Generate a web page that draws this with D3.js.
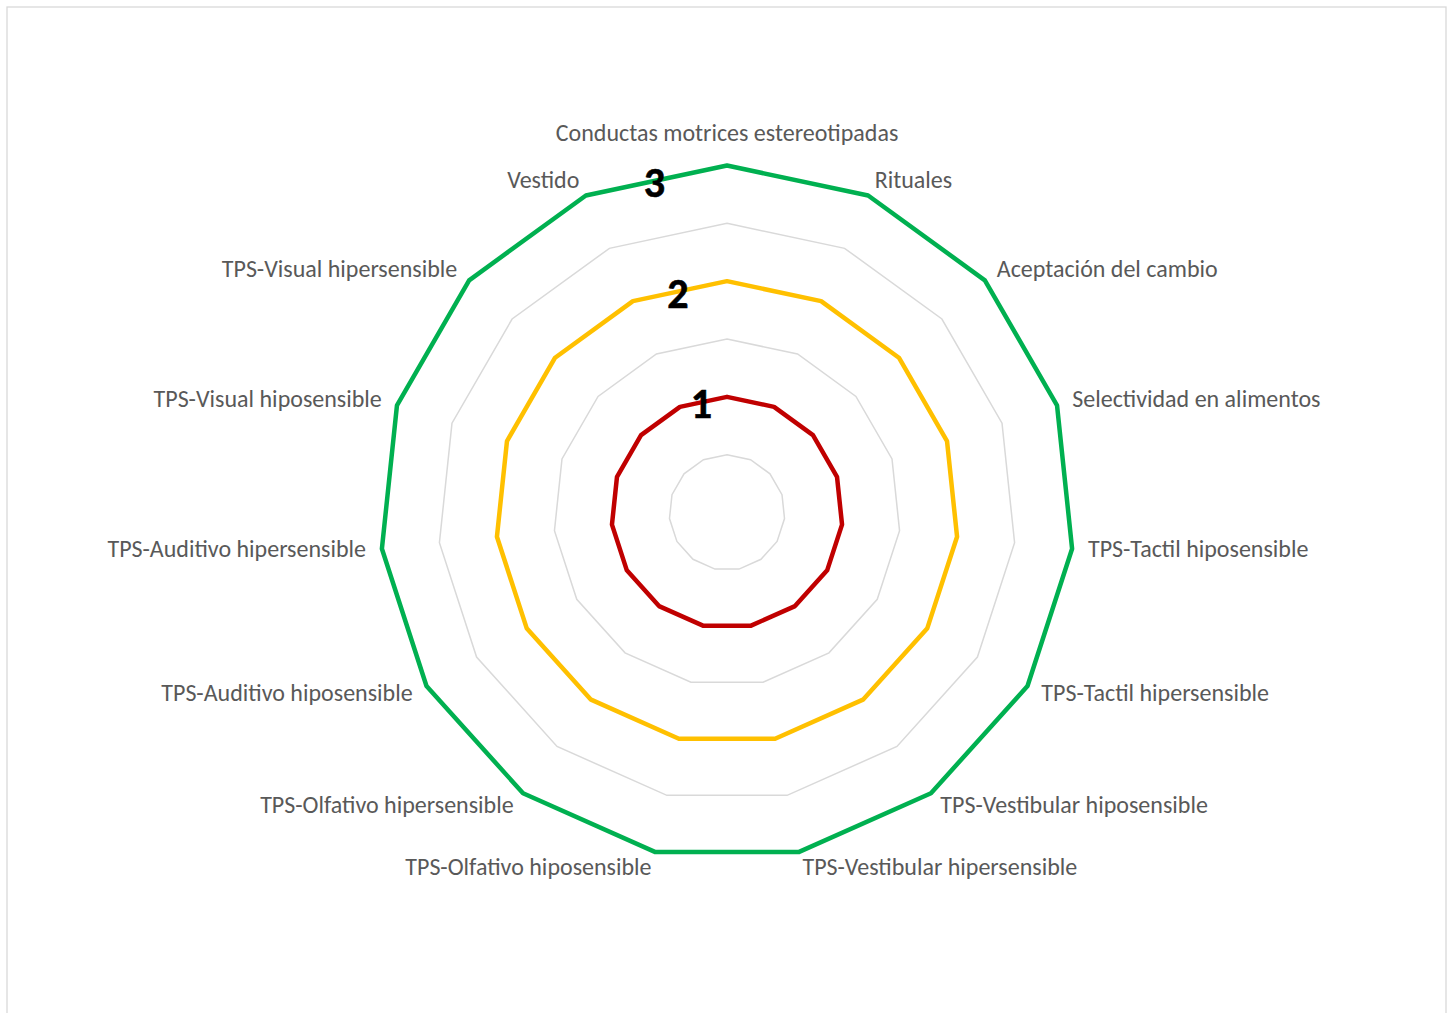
<!DOCTYPE html>
<html>
<head>
<meta charset="utf-8">
<script src="https://cdn.jsdelivr.net/npm/d3@7"></script>
<style>
	html, body { margin: 0; padding: 0; background: #fff; }
	svg { display: block; }
</style>
</head>
<body>
<svg id="chart" width="1450" height="1013"></svg>
<script>
// categories, clockwise from the top
const categories = [
	"Conductas motrices estereotipadas",
	"Rituales",
	"Aceptación del cambio",
	"Selectividad en alimentos",
	"TPS-Tactil hiposensible",
	"TPS-Tactil hipersensible",
	"TPS-Vestibular hiposensible",
	"TPS-Vestibular hipersensible",
	"TPS-Olfativo hiposensible",
	"TPS-Olfativo hipersensible",
	"TPS-Auditivo hiposensible",
	"TPS-Auditivo hipersensible",
	"TPS-Visual hiposensible",
	"TPS-Visual hipersensible",
	"Vestido"
]
const nivel1 = [1, 1, 1, 1, 1, 1, 1, 1, 1, 1, 1, 1, 1, 1, 1]
const nivel2 = [2, 2, 2, 2, 2, 2, 2, 2, 2, 2, 2, 2, 2, 2, 2]
const nivel3 = [3, 3, 3, 3, 3, 3, 3, 3, 3, 3, 3, 3, 3, 3, 3]
const gridTicks = [0.5, 1, 1.5, 2, 2.5, 3]
const seriesColors = ["#c00000", "#ffc000", "#00b050"]

const series = [nivel1, nivel2, nivel3]

const cx = 727
const cy = 512.5
const svg = d3.select("#chart")

// chart area border
svg.append("rect")
	.attr("x", 7).attr("y", 7)
	.attr("width", 1439).attr("height", 1015)
	.attr("style", "fill:none;stroke:#d9d9d9;stroke-width:1.3px;")

const g = svg.append("g").attr("transform", `translate(${cx},${cy})`)

const r = d3.scaleLinear().domain([0, 3]).range([0, 347])
const angle = d3.scaleLinear().domain([0, categories.length]).range([0, 2 * Math.PI])

const line = d3.lineRadial()
	.angle((d, i) => angle(i))
	.radius(d => r(d))
	.curve(d3.curveLinearClosed)

// gridlines
const gridGroup = g.append("g")
gridTicks.forEach(t => {
	gridGroup.append("path")
		.attr("d", line(categories.map(() => t)))
		.attr("style", "fill:none;stroke:#d9d9d9;stroke-width:1.5px;")
})

// series
const seriesGroup = g.append("g")
series.forEach((values, k) => {
	seriesGroup.append("path")
		.attr("d", line(values))
		.attr("style", `fill:none;stroke:${seriesColors[k]};stroke-width:4.5px;stroke-linejoin:round;`)
})

// category labels
const labelGroup = g.append("g")
const labelR = r(3) + 16
categories.forEach((name, i) => {
	const a = angle(i)
	const s = Math.sin(a)
	const c = Math.cos(a)
	const x = labelR * s
	const y = -labelR * c
	const t = labelGroup.append("text")
		.attr("x", x)
		.attr("style", "font-family:Calibri,Carlito,Lato,sans-serif;font-size:24px;fill:#595959;")
		.text(name)
	if (Math.abs(s) < 0.01) {
		t.attr("text-anchor", "middle").attr("y", y - 9)
	} else {
		t.attr("text-anchor", s > 0 ? "start" : "end")
			.attr("y", y - 1.5)
			.attr("dominant-baseline", "central")
	}
})

// data labels: on the last edge of each series
const last = categories.length - 1
series.forEach(values => {
	const a0 = angle(0), a1 = angle(last)
	const x = (r(values[0]) * Math.sin(a0) + r(values[last]) * Math.sin(a1)) / 2
	const y = (-r(values[0]) * Math.cos(a0) - r(values[last]) * Math.cos(a1)) / 2
	labelGroup.append("text")
		.attr("x", x - 2)
		.attr("y", y + 2)
		.attr("text-anchor", "middle")
		.attr("dominant-baseline", "central")
		.attr("style", "font-family:Calibri,Carlito,Lato,sans-serif;font-size:42px;font-weight:bold;fill:#000;stroke:#000;stroke-width:0.6px;")
		.text(values[0])
})
</script>
</body>
</html>
